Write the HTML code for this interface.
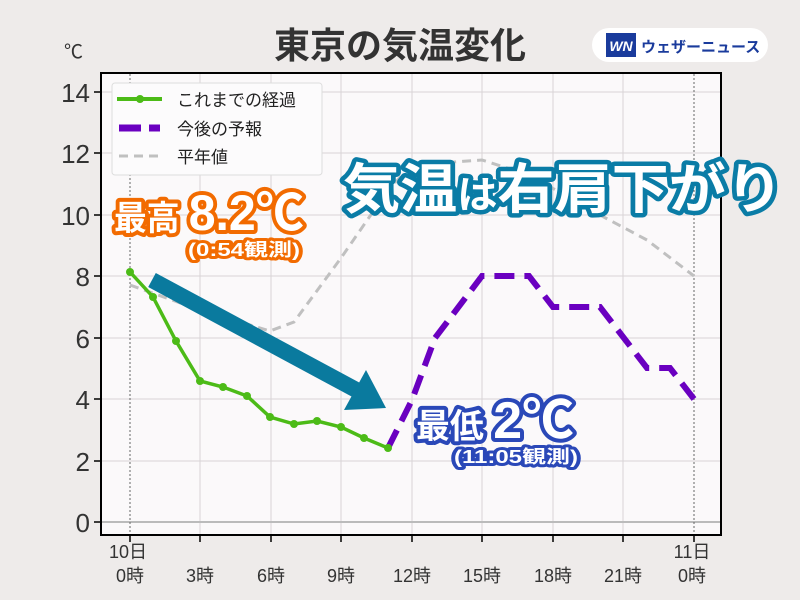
<!DOCTYPE html>
<html><head><meta charset="utf-8"><style>
body{margin:0;background:#eeebea;}
svg{display:block;font-family:"Liberation Sans","Noto Sans CJK JP",sans-serif;}
</style></head><body>
<svg width="800" height="600" viewBox="0 0 800 600">
<rect width="800" height="600" fill="#eeebea"/>
<text x="400" y="58" text-anchor="middle" font-size="36" font-weight="bold" fill="#333">東京の気温変化</text>
<text x="64" y="58" font-size="19" fill="#333">℃</text>
<rect x="592" y="28" width="176" height="34" rx="17" fill="#fff"/>
<rect x="606" y="33" width="30" height="24" fill="#1a3b9c" transform="skew(-10)" transform-origin="620 45"/>
<text x="621" y="51" text-anchor="middle" font-size="14" font-weight="bold" font-style="italic" fill="#fff">WN</text>
<text x="641" y="52" font-size="15" font-weight="bold" fill="#1a3b9c">ウェザーニュース</text>
<rect x="101" y="73" width="620" height="462" fill="#fbf9fa" stroke="#000" stroke-width="2"/>
<g stroke="#d8d4d6" stroke-width="1">
<line x1="200" y1="74" x2="200" y2="534"/><line x1="271" y1="74" x2="271" y2="534"/><line x1="341" y1="74" x2="341" y2="534"/><line x1="412" y1="74" x2="412" y2="534"/><line x1="482" y1="74" x2="482" y2="534"/><line x1="553" y1="74" x2="553" y2="534"/><line x1="623" y1="74" x2="623" y2="534"/>
<line x1="102" y1="92" x2="720" y2="92"/><line x1="102" y1="153" x2="720" y2="153"/><line x1="102" y1="215" x2="720" y2="215"/><line x1="102" y1="276" x2="720" y2="276"/><line x1="102" y1="338" x2="720" y2="338"/><line x1="102" y1="399" x2="720" y2="399"/><line x1="102" y1="461" x2="720" y2="461"/>
</g>
<line x1="102" y1="522" x2="720" y2="522" stroke="#bbb" stroke-width="2"/>
<g stroke="#666" stroke-width="1" stroke-dasharray="2,2"><line x1="130" y1="74" x2="130" y2="534"/><line x1="694" y1="74" x2="694" y2="534"/></g>
<g stroke="#000" stroke-width="1.5">
<line x1="94" y1="92" x2="101" y2="92"/><line x1="94" y1="153" x2="101" y2="153"/><line x1="94" y1="215" x2="101" y2="215"/><line x1="94" y1="276" x2="101" y2="276"/><line x1="94" y1="338" x2="101" y2="338"/><line x1="94" y1="399" x2="101" y2="399"/><line x1="94" y1="461" x2="101" y2="461"/><line x1="94" y1="522" x2="101" y2="522"/>
<line x1="130" y1="535" x2="130" y2="542"/><line x1="200" y1="535" x2="200" y2="542"/><line x1="271" y1="535" x2="271" y2="542"/><line x1="341" y1="535" x2="341" y2="542"/><line x1="412" y1="535" x2="412" y2="542"/><line x1="482" y1="535" x2="482" y2="542"/><line x1="553" y1="535" x2="553" y2="542"/><line x1="623" y1="535" x2="623" y2="542"/><line x1="694" y1="535" x2="694" y2="542"/>
</g>
<g font-size="26" fill="#333" text-anchor="end">
<text x="90" y="102">14</text><text x="90" y="163">12</text><text x="90" y="225">10</text><text x="90" y="286">8</text><text x="90" y="348">6</text><text x="90" y="409">4</text><text x="90" y="471">2</text><text x="90" y="532">0</text>
</g>
<g font-size="18" fill="#333" text-anchor="middle">
<text x="128" y="558">10日</text><text x="130" y="582">0時</text><text x="200" y="582">3時</text><text x="271" y="582">6時</text><text x="341" y="582">9時</text><text x="412" y="582">12時</text><text x="482" y="582">15時</text><text x="553" y="582">18時</text><text x="623" y="582">21時</text><text x="692" y="558">11日</text><text x="692" y="582">0時</text>
</g>
<polyline points="130,285 200,310 270,331 294,322 341,258 388,190 412,165 482,160 529,175 600,215 647,240 694,276" fill="none" stroke="#c0c0c0" stroke-width="3" stroke-dasharray="9,6"/>
<polyline points="388,448 412,400 435,338 482,276 529,276 553,307 600,307 647,368 670,368 694,399" fill="none" stroke="#6a00c0" stroke-width="6" stroke-dasharray="20,10"/>
<polyline points="130,272 153,297 176,341 200,381 223,387 247,396 270,417 294,424 317,421 341,427 364,438 388,448" fill="none" stroke="#4cbb17" stroke-width="3.5"/>
<g fill="#4cbb17"><circle cx="130" cy="272" r="4"/><circle cx="153" cy="297" r="4"/><circle cx="176" cy="341" r="4"/><circle cx="200" cy="381" r="4"/><circle cx="223" cy="387" r="4"/><circle cx="247" cy="396" r="4"/><circle cx="270" cy="417" r="4"/><circle cx="294" cy="424" r="4"/><circle cx="317" cy="421" r="4"/><circle cx="341" cy="427" r="4"/><circle cx="364" cy="438" r="4"/><circle cx="388" cy="448" r="4"/></g>
<rect x="112" y="83" width="210" height="92" rx="3" fill="#fcfbfc" stroke="#ddd"/>
<line x1="117" y1="99" x2="162" y2="99" stroke="#4cbb17" stroke-width="4"/><circle cx="140" cy="99" r="4" fill="#4cbb17"/>
<line x1="119" y1="128" x2="160" y2="128" stroke="#6a00c0" stroke-width="7" stroke-dasharray="22,8"/>
<line x1="119" y1="156" x2="160" y2="156" stroke="#c0c0c0" stroke-width="3" stroke-dasharray="9,6"/>
<g font-size="17" fill="#222"><text x="177" y="106">これまでの経過</text><text x="177" y="135">今後の予報</text><text x="177" y="163">平年値</text></g>
<line x1="152" y1="280" x2="360" y2="392" stroke="#0a7a9e" stroke-width="16"/>
<polygon points="386,408 344,410 366,370" fill="#0a7a9e"/>
<g font-weight="bold" stroke-linejoin="round" paint-order="stroke">
<text x="343" y="208" font-size="54" fill="#fff" stroke="#0a7ca6" stroke-width="9" textLength="440" lengthAdjust="spacingAndGlyphs">気温<tspan font-size="38">は</tspan>右肩下がり</text>
<text x="114" y="230" font-size="34" fill="#fff" stroke="#f26b00" stroke-width="8" textLength="190" lengthAdjust="spacingAndGlyphs">最高 <tspan font-size="50">8.2℃</tspan></text>
<text x="188" y="256" font-size="18" fill="#fff" stroke="#f26b00" stroke-width="6" textLength="112" lengthAdjust="spacingAndGlyphs">(0:54観測)</text>
<text x="416" y="438" font-size="34" fill="#fff" stroke="#2a48b8" stroke-width="8" textLength="158" lengthAdjust="spacingAndGlyphs">最低 <tspan font-size="52">2℃</tspan></text>
<text x="454" y="463" font-size="18" fill="#fff" stroke="#2a48b8" stroke-width="6" textLength="124" lengthAdjust="spacingAndGlyphs">(11:05観測)</text>
</g>
</svg>
</body></html>
